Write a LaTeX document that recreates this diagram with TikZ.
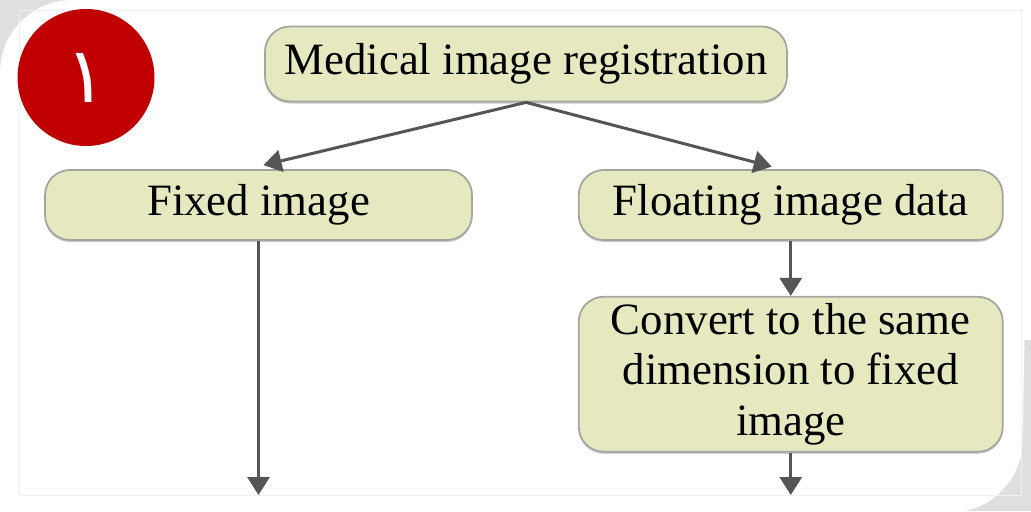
\documentclass[tikz,border=0pt]{standalone}
\usepackage{fontspec}
\setmainfont{Liberation Serif}
\newfontfamily\arabicfont[Script=Arabic]{DejaVu Sans}
\TeXXeTstate=1
\usetikzlibrary{arrows.meta,positioning,calc,shadows}
\definecolor{boxfill}{RGB}{230,233,192}
\definecolor{boxline}{RGB}{165,165,160}
\definecolor{linkgray}{RGB}{85,85,85}
\definecolor{badgered}{RGB}{192,0,0}

\begin{document}
\begin{tikzpicture}[
      box/.style={rectangle, draw=boxline, fill=boxfill, line width=1pt, rounded corners=0.5cm, align=center, font=\fontsize{25.5}{28.5}\selectfont, inner sep=0pt, drop shadow={shadow xshift=0pt, shadow yshift=-1.2pt, opacity=0.4}},
      link/.style={-{Triangle[width=0.44cm,length=0.36cm]}, line width=1.7pt, linkgray}
    ]
      \useasboundingbox (0,0) rectangle (20.62,-10.22);
      \fill[gray!25] (0,0) rectangle (2,-2);
      \fill[gray!25] (20.62,-10.22) rectangle (18.6,-6.8);
      \fill[white] (0,-1.45) arc[start angle=180, end angle=90, radius=1.45] -- (20.62,0) -- (20.45,-8.8) arc[start angle=0, end angle=-90, radius=1.45] -- (0,-10.22) -- cycle;
      \draw[gray!12, line width=0.6pt] (0.39,-0.21) rectangle (20.43,-9.91);

      \node[circle, fill=badgered, minimum size=2.74cm, inner sep=0pt] (badge) at (1.72,-1.55) {};
      \node[text=white, font=\arabicfont\fontsize{44}{50}\selectfont] (numeral) at (badge.center) {\beginR ١\endR};

      \node[box, minimum width=10.44cm, minimum height=1.5cm] (medreg) at (10.52,-1.28) {Medical image registration};
      \node[box, minimum width=8.54cm, minimum height=1.4cm] (fixed) at (5.17,-4.1) {Fixed image};
      \node[box, minimum width=8.48cm, minimum height=1.4cm, right=2.1cm of fixed] (floating) {Floating image data};
      \node[box, minimum width=8.48cm, minimum height=3.1cm, below=1.1cm of floating] (convert) {Convert to the same\\dimension to fixed\\image};

      \coordinate (fixedend) at (5.17,-9.9);
      \coordinate (convertend) at (convert.south |- fixedend);

      \draw[link] (medreg.south) -- ([xshift=0.1cm, yshift=0.08cm]fixed.north);
      \draw[link] (medreg.south) -- ([xshift=-0.38cm, yshift=0.05cm]floating.north);
      \draw[link] (fixed.south) -- (fixedend);
      \draw[link] (floating.south) -- (convert.north);
      \draw[link] (convert.south) -- (convertend);
    \end{tikzpicture}
\end{document}
